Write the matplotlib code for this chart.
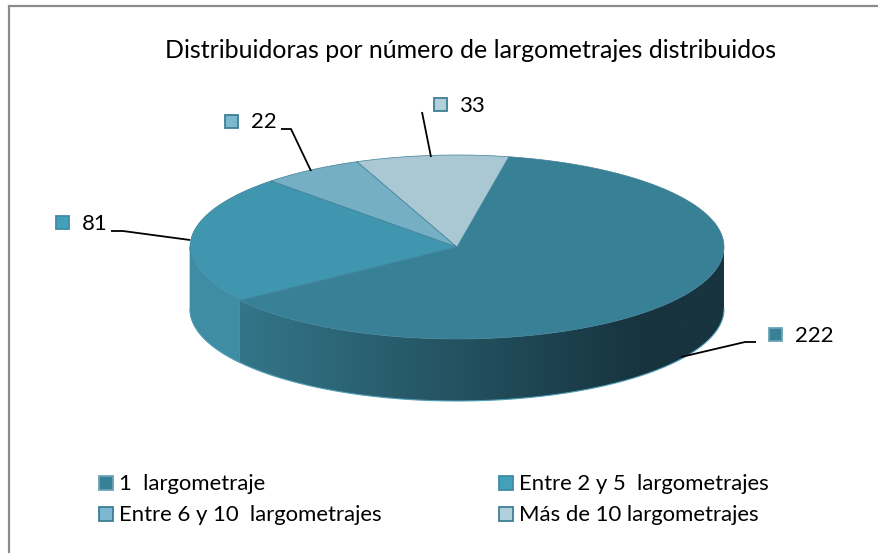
import numpy as np
import matplotlib.pyplot as plt
from matplotlib.patches import Rectangle, Polygon

title = "Distribuidoras por número de largometrajes distribuidos"
categories = ["1  largometraje", "Entre 2 y 5  largometrajes", "Entre 6 y 10  largometrajes", "Más de 10 largometrajes"]
values = [222, 81, 22, 33]
top_colors = ["#378096", "#4196af", "#74afc4", "#a9c8d4"]
marker_edges = ["#6aa3b5", "#3f8ba4", "#3f7f96", "#3f7f96"]
marker_fills = ["#378096", "#42a0ba", "#7cb8cf", "#b0d0dc"]

# pie geometry, in pixels
cx, cy, rx, ry, depth = 457, 247, 267, 92, 62
start_angle = 78.8

# label layout, in pixels: square, text, leader line
label_squares = [(776, 334), (63, 222), (232, 121), (441, 104)]
label_texts = [(795, 336), (82, 224), (251, 122), (460, 106)]
leader_x = [[681, 745, 756], [190, 123, 111], [311, 291, 281], [431, 422]]
leader_y = [[357, 342, 342], [240, 231, 231], [171, 129, 129], [157, 112]]

legend_x = [99, 499, 99, 499]
legend_y = [483, 483, 514, 514]

plt.rcParams["font.family"] = ["Lato", "DejaVu Sans"]


def ellipse(t):
    t = np.radians(t)
    return cx + rx * np.cos(t), cy - ry * np.sin(t)


def side_polygon(t0, t1):
    x, y = ellipse(np.linspace(t0, t1, 200))
    return np.column_stack([np.r_[x, x[::-1]], np.r_[y, y[::-1] + depth]])


def draw_pie(ax):
    angles = start_angle - np.r_[0, np.cumsum(values)] / sum(values) * 360

    # front wall of the second slice, flat colour
    ax.add_patch(Polygon(side_polygon(angles[1], -180), closed=True, fc="#3f8ca5", ec="#3f8ca5", lw=0.5, zorder=2))

    # front wall of the big slice, dark gradient towards the right
    wall = Polygon(side_polygon(0, angles[1]), closed=True, fc="none", ec="none", transform=ax.transData)
    ax.add_patch(wall)
    left, right = np.array([0x33, 0x76, 0x89]), np.array([0x17, 0x34, 0x3f])
    fade = np.clip(np.linspace(0, 1, 500) * 1.21, 0, 1)[None, :, None]
    grad = (left + (right - left) * fade) / 255
    img = ax.imshow(grad, extent=(238, 724, 420, 240), aspect="auto", zorder=3)
    img.set_clip_path(wall)

    # rim of the wall
    x, y = ellipse(np.linspace(0, -180, 300))
    ax.plot(x, y + depth, color="#4f9db5", lw=0.8, zorder=4)

    # top faces
    for i, color in enumerate(top_colors):
        x, y = ellipse(np.linspace(angles[i], angles[i + 1], 200))
        pts = np.column_stack([np.r_[cx, x], np.r_[cy, y]])
        ax.add_patch(Polygon(pts, closed=True, fc=color, ec="#3f8098", lw=0.5, zorder=5))


def draw_square(ax, x, y, size, fill, edge):
    ax.add_patch(Rectangle((x - size / 2, y - size / 2), size, size, fc=fill, ec=edge, lw=1.3, zorder=6))


def main():
    fig = plt.figure(figsize=(8.79, 5.53), dpi=100)
    ax = fig.add_axes([0, 0, 1, 1])
    ax.axis("off")

    # chart frame, only left and top fall inside the picture
    ax.plot([9, 9, 879], [553, 6, 6], color="#8c8c8c", lw=1.6, zorder=0, solid_joinstyle="miter")

    draw_pie(ax)

    ax.text(471, 50, title, fontsize=18, ha="center", va="center", color="black")

    for i, value in enumerate(values):
        ax.plot(leader_x[i], leader_y[i], color="black", lw=1.3, zorder=6, solid_capstyle="butt")
        draw_square(ax, *label_squares[i], 13, marker_fills[i], marker_edges[i])
        ax.text(*label_texts[i], str(value), fontsize=15.9, ha="left", va="center", color="black")

    for i, label in enumerate(categories):
        draw_square(ax, legend_x[i] + 7, legend_y[i], 14, marker_fills[i], marker_edges[i])
        ax.text(legend_x[i] + 20, legend_y[i] + 1, label, fontsize=15.9, ha="left", va="center", color="black")

    ax.set_xlim(0, 879)
    ax.set_ylim(553, 0)
    fig.savefig("out.png", dpi=100)
    plt.close(fig)


if __name__ == "__main__":
    main()
